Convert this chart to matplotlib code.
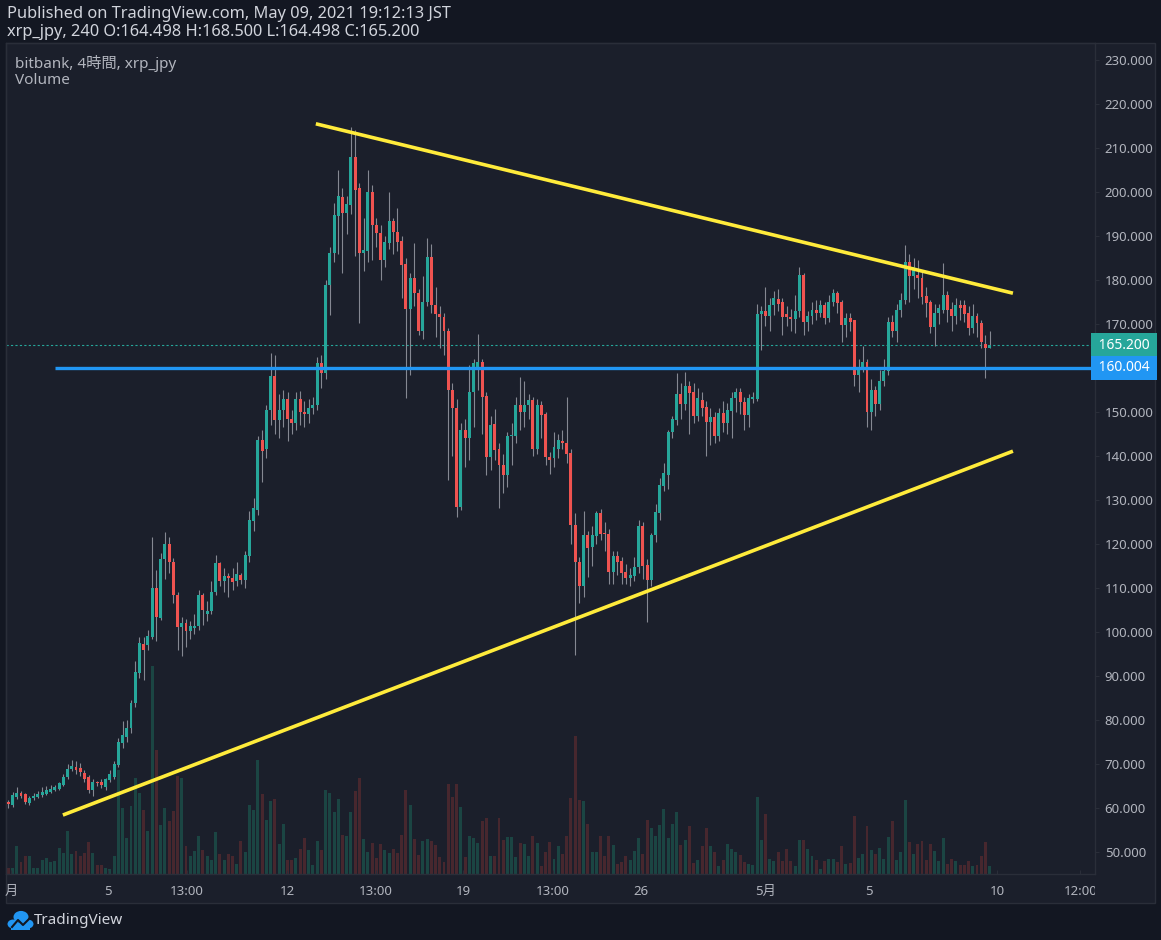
import numpy as np
import matplotlib
matplotlib.use("Agg")
import matplotlib.pyplot as plt
from matplotlib.patches import Rectangle, Circle
from matplotlib.transforms import blended_transform_factory, Bbox, TransformedBbox

# -------------------------
# Data: bitbank xrp_jpy, 4h candles (Apr 1 - May 9, 2021)
# -------------------------
opens = [
    61.0, 60.7, 62.6, 63.3, 63.1, 61.2, 62.3, 62.6, 63.0, 63.2,
    63.7, 64.1, 64.4, 65.2, 67.0, 68.8, 69.4, 69.0, 68.0, 67.1,
    64.1, 65.7, 66.0, 64.8, 66.4, 67.1, 69.8, 74.7, 76.2, 78.1,
    83.8, 90.6, 97.2, 97.0, 98.9, 109.9, 103.1, 116.5, 120.1, 116.0,
    108.4, 101.2, 102.0, 100.3, 101.0, 101.4, 108.4, 104.2, 104.8, 109.0,
    115.6, 111.7, 112.7, 112.3, 111.5, 112.9, 111.9, 117.3, 125.3, 127.7,
    143.6, 141.5, 150.5, 158.2, 148.2, 150.5, 153.0, 148.5, 147.5, 153.0,
    150.0, 149.5, 151.0, 151.6, 161.1, 158.8, 178.9, 186.2, 194.5, 198.8,
    195.3, 197.0, 208.0, 200.8, 186.2, 186.7, 200.1, 192.5, 190.6, 184.5,
    188.5, 193.3, 190.9, 188.9, 183.6, 173.3, 180.4, 177.1, 168.5, 175.1,
    185.3, 174.3, 172.3, 171.7, 168.3, 155.0, 151.0, 128.5, 145.8, 144.0,
    154.6, 160.3, 161.4, 153.6, 139.7, 147.3, 141.7, 138.0, 135.7, 144.5,
    144.6, 151.6, 150.1, 151.6, 152.7, 141.7, 151.6, 149.5, 139.8, 139.5,
    141.7, 143.5, 142.9, 140.6, 124.3, 116.0, 110.5, 122.0, 119.4, 121.8,
    127.1, 122.3, 122.3, 113.7, 117.3, 116.2, 113.7, 112.2, 112.7, 114.7,
    124.1, 115.2, 111.8, 122.0, 127.1, 133.2, 135.7, 145.5, 148.2, 154.2,
    151.8, 155.9, 154.6, 149.1, 152.7, 151.1, 147.8, 148.9, 144.5, 149.7,
    147.4, 150.3, 153.1, 154.6, 152.3, 149.3, 153.0, 152.9, 172.3, 173.0,
    171.8, 174.3, 175.6, 174.9, 172.3, 171.5, 171.1, 173.0, 181.1, 170.5,
    171.8, 173.2, 172.6, 174.3, 171.3, 175.1, 177.1, 174.9, 169.8, 171.3,
    170.8, 158.4, 160.3, 161.4, 149.9, 155.0, 151.8, 157.1, 159.4, 170.5,
    168.3, 173.2, 175.5, 184.0, 180.8, 181.1, 180.4, 176.4, 174.9, 169.4,
    172.4, 173.2, 176.6, 173.3, 171.8, 174.3, 174.3, 172.4, 169.2, 171.8,
    170.3, 165.4, 164.498,
]
highs = [
    61.8, 63.7, 64.8, 63.8, 63.5, 62.8, 63.4, 63.8, 64.8, 64.9,
    65.3, 65.2, 66.0, 67.8, 69.9, 70.9, 70.6, 70.2, 68.6, 67.6,
    66.6, 66.1, 66.5, 66.9, 68.6, 70.6, 76.0, 79.8, 80.0, 84.6,
    93.5, 98.8, 98.8, 100.5, 121.7, 114.0, 118.0, 122.8, 121.5, 116.8,
    109.0, 103.5, 103.0, 102.5, 104.0, 109.5, 108.8, 107.0, 111.5, 117.5,
    116.0, 114.5, 113.5, 114.5, 116.0, 113.5, 118.5, 127.5, 130.5, 144.5,
    146.0, 151.5, 163.4, 163.0, 154.0, 155.0, 154.5, 150.5, 154.5, 154.8,
    152.5, 153.0, 153.5, 162.5, 163.0, 180.0, 187.5, 197.5, 205.0, 201.0,
    199.0, 214.8, 214.1, 202.0, 194.0, 205.0, 201.5, 194.0, 192.5, 190.0,
    200.1, 194.0, 196.3, 190.0, 185.0, 181.5, 188.5, 178.0, 181.0, 189.5,
    188.2, 178.5, 174.0, 172.5, 169.0, 156.5, 153.0, 147.5, 148.5, 160.7,
    162.0, 167.7, 162.0, 154.5, 149.0, 150.6, 143.0, 140.5, 145.5, 147.5,
    153.5, 158.0, 157.0, 154.0, 153.5, 153.0, 152.5, 150.0, 141.0, 145.5,
    145.0, 146.0, 153.5, 141.5, 127.0, 117.0, 127.6, 123.0, 124.0, 127.6,
    128.0, 125.0, 123.5, 118.5, 118.5, 117.0, 115.5, 114.5, 117.0, 125.5,
    125.0, 116.5, 122.5, 129.0, 135.0, 138.5, 146.0, 149.0, 158.9, 156.5,
    159.0, 157.0, 156.5, 155.5, 154.5, 152.5, 151.0, 150.0, 151.0, 152.5,
    152.0, 154.5, 155.5, 155.5, 153.5, 154.0, 154.5, 174.5, 174.0, 178.5,
    176.0, 177.5, 178.0, 176.0, 174.0, 173.5, 176.5, 183.0, 181.5, 173.0,
    175.0, 175.5, 175.5, 175.0, 176.5, 178.0, 177.5, 175.5, 172.5, 172.5,
    171.0, 162.0, 165.0, 162.0, 157.5, 156.0, 159.5, 162.0, 171.5, 172.0,
    174.5, 177.0, 188.0, 186.0, 185.0, 184.5, 182.0, 178.5, 175.5, 174.5,
    174.5, 183.9, 177.5, 175.0, 176.0, 175.5, 175.5, 174.0, 174.5, 172.5,
    171.0, 167.5, 168.5,
]
lows = [
    60.1, 60.3, 62.0, 62.3, 61.0, 60.6, 61.9, 62.2, 62.6, 62.9,
    63.3, 63.8, 64.0, 64.9, 66.6, 68.3, 67.8, 67.3, 66.0, 63.4,
    62.8, 64.9, 64.6, 64.2, 65.9, 66.5, 69.3, 73.6, 75.0, 77.0,
    83.0, 89.5, 89.0, 95.8, 98.5, 98.0, 102.7, 112.0, 113.5, 106.5,
    96.0, 94.5, 96.5, 98.5, 99.5, 100.5, 101.5, 102.5, 104.0, 108.5,
    110.5, 109.0, 108.0, 109.5, 110.5, 111.0, 110.0, 116.0, 123.0, 126.5,
    134.0, 139.5, 147.0, 145.0, 144.0, 146.5, 143.5, 145.0, 146.0, 147.0,
    146.5, 147.5, 149.5, 150.5, 155.5, 157.5, 172.0, 184.0, 186.0, 181.5,
    190.5, 195.0, 185.5, 170.2, 182.0, 184.0, 184.5, 187.5, 180.0, 183.0,
    187.0, 186.0, 186.5, 176.0, 153.1, 158.4, 174.0, 167.5, 166.5, 174.0,
    172.5, 167.0, 164.5, 163.0, 134.5, 140.0, 126.2, 127.7, 137.5, 139.0,
    146.5, 155.0, 145.0, 135.7, 136.8, 139.0, 128.1, 131.5, 133.0, 138.0,
    143.0, 146.0, 146.5, 148.5, 140.0, 140.5, 144.0, 138.0, 136.0, 137.5,
    139.5, 141.5, 138.5, 120.0, 94.8, 106.7, 108.0, 112.5, 115.0, 120.0,
    121.0, 118.5, 111.0, 111.0, 113.0, 111.0, 111.0, 110.5, 111.5, 113.5,
    112.0, 102.3, 110.5, 120.5, 125.5, 132.0, 132.5, 144.0, 147.0, 148.5,
    150.5, 145.0, 147.5, 148.0, 149.0, 139.9, 142.5, 143.0, 143.5, 145.5,
    145.0, 144.0, 150.0, 149.5, 146.0, 146.5, 152.0, 152.5, 164.0, 169.5,
    168.5, 172.0, 173.0, 167.5, 169.5, 168.5, 168.0, 171.5, 167.5, 168.5,
    170.0, 171.0, 171.5, 170.0, 170.5, 174.0, 172.5, 166.0, 167.0, 168.5,
    156.0, 154.5, 159.0, 146.5, 146.0, 149.0, 150.5, 156.0, 158.5, 167.0,
    166.0, 171.5, 174.5, 175.0, 178.0, 176.0, 174.5, 171.5, 168.0, 165.0,
    170.0, 172.5, 170.5, 168.5, 170.0, 171.0, 170.5, 167.5, 168.0, 167.0,
    164.5, 157.7, 164.498,
]
closes = [
    60.9, 62.9, 63.3, 62.7, 61.4, 62.2, 62.7, 63.2, 63.7, 64.1,
    64.4, 64.7, 65.6, 67.1, 68.8, 69.5, 68.6, 68.2, 66.7, 64.1,
    66.0, 65.6, 65.2, 66.5, 67.7, 70.1, 75.1, 76.6, 78.1, 83.8,
    91.0, 97.4, 95.8, 99.1, 109.9, 103.5, 116.7, 120.1, 115.8, 108.4,
    101.2, 102.1, 100.3, 101.4, 101.4, 108.4, 105.0, 104.8, 109.0, 115.6,
    111.7, 112.7, 112.3, 111.3, 113.1, 111.9, 117.6, 125.5, 128.1, 143.6,
    141.1, 150.5, 158.2, 148.2, 150.5, 153.0, 148.5, 147.5, 153.0, 150.0,
    149.5, 151.0, 151.6, 161.1, 158.9, 178.9, 186.2, 194.8, 199.1, 195.3,
    197.3, 208.0, 200.5, 186.2, 186.8, 200.1, 192.5, 190.6, 184.5, 188.7,
    193.3, 190.8, 188.7, 183.4, 173.3, 180.4, 177.1, 168.5, 175.1, 185.3,
    174.3, 172.3, 171.7, 168.3, 155.0, 151.0, 128.5, 145.8, 144.0, 154.6,
    161.1, 161.4, 153.5, 139.7, 147.0, 141.4, 138.0, 135.7, 144.5, 144.8,
    151.6, 150.1, 151.6, 152.7, 141.7, 151.6, 149.3, 139.7, 139.2, 142.0,
    143.6, 142.9, 140.5, 124.3, 115.8, 110.5, 122.0, 119.0, 122.0, 127.1,
    122.3, 122.1, 113.7, 117.3, 116.0, 113.3, 112.2, 113.0, 114.8, 124.1,
    115.0, 111.8, 122.0, 127.3, 133.4, 136.1, 145.5, 148.3, 154.2, 151.8,
    155.9, 154.4, 149.1, 153.1, 150.8, 147.8, 148.9, 144.5, 149.7, 147.4,
    150.4, 153.1, 154.6, 152.3, 149.3, 153.1, 153.3, 172.3, 173.0, 171.8,
    174.3, 175.8, 174.5, 171.7, 171.5, 171.1, 173.0, 181.1, 170.5, 171.8,
    173.2, 172.6, 174.3, 171.3, 175.1, 177.1, 174.7, 169.8, 171.3, 170.5,
    158.4, 160.3, 161.4, 149.9, 155.0, 151.8, 157.1, 159.4, 170.5, 168.3,
    173.2, 175.5, 184.2, 180.8, 183.0, 180.4, 176.2, 174.7, 169.4, 172.4,
    173.6, 176.6, 173.2, 171.8, 174.3, 173.6, 172.3, 169.2, 171.8, 170.3,
    165.8, 164.5, 165.2,
]
# volume (relative units)
volumes = [
    6, 6, 28, 12, 18, 18, 6, 6, 14, 16,
    12, 13, 26, 21, 43, 20, 23, 18, 21, 32,
    21, 9, 9, 6, 5, 18, 104, 66, 36, 68,
    96, 81, 64, 43, 208, 124, 49, 66, 53, 63,
    98, 96, 28, 18, 23, 38, 24, 18, 14, 42,
    20, 14, 20, 18, 10, 33, 22, 69, 64, 114,
    80, 54, 73, 75, 30, 50, 14, 14, 16, 25,
    36, 24, 9, 33, 24, 84, 81, 62, 75, 39,
    38, 62, 83, 96, 35, 22, 31, 16, 30, 24,
    21, 25, 21, 39, 84, 69, 35, 19, 33, 35,
    33, 29, 17, 12, 90, 77, 90, 67, 17, 38,
    36, 31, 53, 56, 18, 18, 56, 34, 37, 37,
    17, 31, 30, 18, 38, 31, 8, 22, 32, 15,
    28, 20, 38, 76, 138, 74, 73, 50, 22, 22,
    38, 18, 38, 29, 10, 12, 18, 14, 23, 36,
    20, 54, 46, 38, 49, 65, 36, 50, 62, 29,
    34, 48, 11, 14, 28, 46, 28, 22, 8, 14,
    30, 25, 22, 19, 12, 10, 9, 77, 34, 60,
    15, 13, 22, 13, 25, 13, 8, 34, 34, 25,
    18, 14, 5, 13, 15, 15, 12, 28, 10, 11,
    58, 16, 20, 48, 24, 20, 26, 15, 37, 53,
    14, 22, 74, 32, 20, 30, 33, 14, 30, 23,
    13, 36, 10, 15, 13, 9, 9, 13, 8, 9,
    18, 32, 8,
]

# x axis labels (positions in candle index units)
tick_pos = [0.7, 23.6, 42.2, 65.9, 86.9, 107.5, 128.8, 149.6, 178.9, 203.5, 233.7, 253.4]
tick_labels = ["月", "5", "13:00", "12", "13:00", "19", "13:00", "26", "5月", "5", "10", "12:00"]
price_ticks = list(range(50, 231, 10))

# drawn objects: trend lines (candle index, price) and support level
upper_line = [(72.7, 215.5), (237.5, 177.0)]
lower_line = [(12.9, 58.4), (237.5, 141.1)]
support_level = 160.004
support_start = 11.0
last_close = 165.200

# -------------------------
# Style
# -------------------------
W, H = 1161, 940
BG = "#131722"
PANEL = "#1b1f2b"
BORDER = "#2a2e39"
TEXT = "#b2b5be"
UP = "#26a69a"
DOWN = "#ef5350"
WICK = "#858892"
VOL_UP = "#1b4543"
VOL_DOWN = "#47272e"
FONT = ["Noto Sans", "Noto Sans CJK JP", "DejaVu Sans"]
plt.rcParams["font.family"] = FONT


def px_rect(x0, y0, x1, y1):
    """Figure-fraction rect from pixel box (top-left origin)."""
    return [x0 / W, 1 - y1 / H, (x1 - x0) / W, (y1 - y0) / H]


n = len(closes)
assert len(opens) == len(highs) == len(lows) == len(volumes) == n
idx = np.arange(n)
o = np.array(opens)
c = np.array(closes)
up = c >= o

fig = plt.figure(figsize=(W / 100, H / 100), dpi=100, facecolor=BG)
fig.patches.append(Rectangle((6 / W, 1 - 903 / H), (1155 - 6) / W, (903 - 43) / H,
                             transform=fig.transFigure, fc=PANEL, ec=BORDER, lw=1, zorder=-5))

rect = px_rect(6, 43, 1095, 874)
xlim = (-0.55, 256.9)

# volume pane (behind the price pane)
axv = fig.add_axes(rect)
axv.set_facecolor(PANEL)
axv.bar(idx, volumes, width=0.7, color=np.where(up, VOL_UP, VOL_DOWN), linewidth=0)
axv.set_xlim(*xlim)
axv.set_ylim(0, 831)
axv.axis("off")

# price pane
ax = fig.add_axes(rect)
ax.patch.set_visible(False)
ax.set_xlim(*xlim)
ax.set_ylim(45.0, 233.86)

ax.axhline(last_close, color=UP, lw=0.8, ls=(0, (2, 2)), zorder=1)
ax.vlines(idx, lows, highs, color=WICK, lw=0.8, zorder=2)
body = c - o
body = np.where(np.abs(body) < 0.3, 0.3, body)
ax.bar(idx, body, bottom=o, width=0.7, color=np.where(up, UP, DOWN), linewidth=0, zorder=3)

ax.hlines(support_level, support_start, xlim[1], color="#2196f3", lw=2.4, zorder=4)
for line in (upper_line, lower_line):
    xs, ys = zip(*line)
    ax.plot(xs, ys, color="#ffeb3b", lw=2.6, solid_capstyle="butt", zorder=5)

for s in ax.spines.values():
    s.set_color(BORDER)
    s.set_linewidth(1)

ax.yaxis.tick_right()
ax.set_yticks(price_ticks)
# the 160 label sits under the support-level price tag
ax.set_yticklabels(["" if v == 160 else f"{v:.3f}" for v in price_ticks])
ax.tick_params(axis="y", colors=BORDER, labelcolor=TEXT, labelsize=9.5, length=3, pad=4)
ax.set_xticks(tick_pos)
ax.set_xticklabels(tick_labels)
ax.tick_params(axis="x", colors=BORDER, labelcolor=TEXT, labelsize=9.5, length=3,
               direction="in", pad=8)

# the last time label is cut off by the price scale
clip = TransformedBbox(Bbox([[0, 0], [1095 / W, 1]]), fig.transFigure)
last_lbl = ax.get_xticklabels()[-1]
last_lbl.set_clip_box(clip)
last_lbl.set_clip_on(True)

# price labels on the axis
trans = blended_transform_factory(ax.transAxes, ax.transData)
for val, col in ((last_close, UP), (support_level, "#2196f3")):
    ax.text(1.0, val, f" {val:.3f} ", transform=trans, ha="left", va="center",
            fontsize=10, color="white", clip_on=False, zorder=10,
            bbox=dict(boxstyle="square,pad=0.3", fc=col, ec="none"))

# header
fig.text(7 / W, 1 - 14 / H, "Published on TradingView.com, May 09, 2021 19:12:13 JST",
         color="#d1d4dc", fontsize=11.8, va="center")
fig.text(7 / W, 1 - 32 / H, "xrp_jpy, 240 O:164.498 H:168.500 L:164.498 C:165.200",
         color="#d1d4dc", fontsize=11.8, va="center")
fig.text(15 / W, 1 - 64 / H, "bitbank, 4時間, xrp_jpy", color=TEXT, fontsize=11, va="center")
fig.text(15 / W, 1 - 81 / H, "Volume", color=TEXT, fontsize=11, va="center")

# TradingView logo
logo = [Circle((13 / W, 1 - 924 / H), 5.5 / W), Circle((21 / W, 1 - 917 / H), 7.5 / W),
        Circle((28 / W, 1 - 924 / H), 5.5 / W)]
for p in logo:
    p.set_transform(fig.transFigure)
    p.set_facecolor("#2196f3")
    p.set_edgecolor("none")
    fig.patches.append(p)
fig.patches.append(Rectangle((11 / W, 1 - 930 / H), 19 / W, 7 / H, transform=fig.transFigure,
                             fc="#2196f3", ec="none"))
fig.lines.append(plt.Line2D([12 / W, 18 / W, 23 / W, 30 / W],
                            [1 - 927 / H, 1 - 920 / H, 1 - 925 / H, 1 - 918 / H],
                            transform=fig.transFigure, color=BG, lw=1.5))
fig.text(34 / W, 1 - 921 / H, "TradingView", color="#d1d4dc", fontsize=11, va="center")

fig.savefig("out.png", dpi=100, facecolor=BG)
